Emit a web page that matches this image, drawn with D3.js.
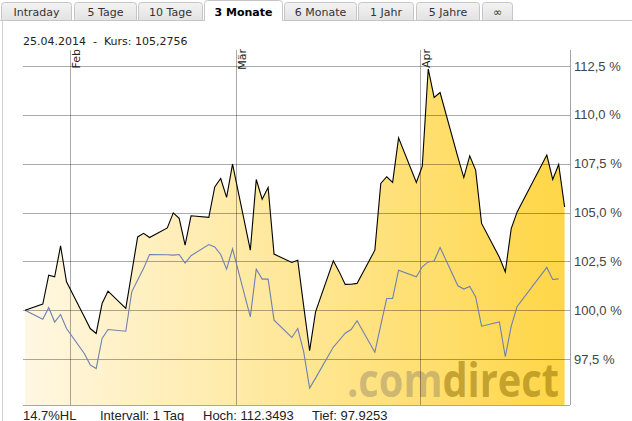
<!DOCTYPE html>
<html><head><meta charset="utf-8">
<script src="https://cdn.jsdelivr.net/npm/d3@7"></script>
<style>
body{margin:0;background:#fff;overflow:hidden;}
svg{display:block;}
</style></head><body>
<svg id="c" width="632" height="421"></svg>
<script>
// ---------- data ----------
const dates = [
"2014-01-24","2014-01-27","2014-01-28","2014-01-29","2014-01-30","2014-01-31",
"2014-02-03","2014-02-04","2014-02-05","2014-02-06","2014-02-07",
"2014-02-10","2014-02-11","2014-02-12","2014-02-13","2014-02-14",
"2014-02-17","2014-02-18","2014-02-19","2014-02-20","2014-02-21",
"2014-02-24","2014-02-25","2014-02-26","2014-02-27","2014-02-28",
"2014-03-03","2014-03-04","2014-03-05","2014-03-06","2014-03-07",
"2014-03-10","2014-03-11","2014-03-12","2014-03-13","2014-03-14",
"2014-03-17","2014-03-18","2014-03-19","2014-03-20","2014-03-21",
"2014-03-24","2014-03-25","2014-03-26","2014-03-27","2014-03-28",
"2014-03-31","2014-04-01","2014-04-02","2014-04-03","2014-04-04",
"2014-04-07","2014-04-08","2014-04-09","2014-04-10","2014-04-11",
"2014-04-14","2014-04-15","2014-04-16","2014-04-17",
"2014-04-22","2014-04-23","2014-04-24","2014-04-25"];
const kurs = [
100.00,100.31,101.79,101.71,103.29,101.45,
99.66,99.06,98.81,100.34,100.97,
100.09,101.92,103.75,103.93,103.72,
104.21,104.98,104.70,103.33,104.83,
104.75,106.31,106.74,105.77,107.48,
103.07,106.69,105.68,106.28,102.87,
102.44,102.56,100.21,97.93,99.91,
102.53,101.96,101.32,101.33,101.37,
103.07,106.49,106.83,106.54,108.82,
106.54,107.37,112.35,110.89,111.14,
107.83,106.79,107.90,107.17,104.44,
102.71,101.96,104.18,105.03,
107.94,106.69,107.46,105.28];
const vergleich = [
100.00,99.53,100.13,99.39,99.78,99.06,
97.78,97.20,97.01,98.55,99.01,
98.92,100.94,101.54,102.14,102.85,
102.84,102.82,102.85,102.41,102.79,
103.36,103.24,102.85,102.10,103.14,
99.66,102.10,101.59,101.59,99.49,
98.60,99.06,97.86,96.01,96.52,
98.11,98.46,98.82,99.01,99.46,
97.85,99.23,100.60,100.60,102.05,
101.71,102.22,102.47,102.52,103.21,
101.25,101.08,101.21,100.68,99.18,
99.40,97.62,99.18,100.19,
102.19,101.57,101.60,null];
const yTicks = [97.5,100,102.5,105,107.5,110,112.5];
const monthTicks = ["2014-02-01","2014-03-01","2014-04-01"];
const monthLabels = ["Feb","Mär","Apr"];
const tabs = ["Intraday","5 Tage","10 Tage","3 Monate","6 Monate","1 Jahr","5 Jahre","∞"];
const activeTab = "3 Monate";
const header = "25.04.2014  -  Kurs: 105,2756";
const footer = ["14.7%HL","Intervall: 1 Tag","Hoch: 112.3493","Tief: 97.9253"];
const watermark = [".com","direct"];

// ---------- layout ----------
const tabX = [1,74,138,204,284,358,416,482];
const tabW = [71,63,65,79,73,56,64,31];
const plot = {left:23, right:570, top:50, bottom:405};
const sans = "'DejaVu Sans', Verdana, sans-serif";
const arial = "'Liberation Sans', Arial, sans-serif";

const svg = d3.select("#c");
const parse = d3.timeParse("%Y-%m-%d");
const stamp = s => d3.timeHour.offset(parse(s), 11);

const x = d3.scaleTime()
  .domain([stamp(dates[0]), stamp(dates[dates.length-1])])
  .range([25, 564.6]);
const y = d3.scaleLinear().domain([97.5,112.5]).range([359,66]);

const defs = svg.append("defs");
const g1 = defs.append("linearGradient").attr("id","fillg")
  .attr("gradientUnits","userSpaceOnUse").attr("x1",25).attr("x2",565).attr("y1",0).attr("y2",0);
g1.append("stop").attr("offset",0).attr("stop-color","#fff7e2");
g1.append("stop").attr("offset",0.5).attr("stop-color","#ffe797");
g1.append("stop").attr("offset",1).attr("stop-color","#ffd646");
const g2 = defs.append("linearGradient").attr("id","tabg").attr("x1",0).attr("x2",0).attr("y1",0).attr("y2",1);
g2.append("stop").attr("offset",0).attr("stop-color","#f3f3f3");
g2.append("stop").attr("offset",1).attr("stop-color","#e2e2e2");
defs.append("clipPath").attr("id","pclip").append("rect")
  .attr("x",plot.left).attr("y",plot.top).attr("width",plot.right-plot.left).attr("height",plot.bottom-plot.top);

// ---------- tabs ----------
svg.append("line").attr("x1",0).attr("x2",632).attr("y1",20.5).attr("y2",20.5).attr("stroke","#c6c6c6");
svg.append("line").attr("x1",2.5).attr("x2",2.5).attr("y1",20).attr("y2",421).attr("stroke","#d0d0d0");
const tabPath = (x0,w,top,bottom) => {
  const r=3, x1=x0+w;
  return `M${x0},${bottom} L${x0},${top+r} Q${x0},${top} ${x0+r},${top} L${x1-r},${top} Q${x1},${top} ${x1},${top+r} L${x1},${bottom}`;
};
tabs.forEach((t,i)=>{
  const act = t===activeTab;
  const x0 = tabX[i]+0.5, w = tabW[i]-1;
  svg.append("path").attr("d", tabPath(x0,w, act?0.5:2.5, act?21:20.5) + (act?"":"Z"))
    .attr("fill", act?"#fff":"url(#tabg)").attr("stroke","#c6c6c6");
  svg.append("text").attr("x", tabX[i]+tabW[i]/2).attr("y",16)
    .attr("text-anchor","middle").attr("font-family",sans).attr("font-size",11)
    .attr("font-weight", act?"bold":"normal").attr("fill", act?"#000":"#333").text(t);
});

// header
svg.append("text").attr("x",23).attr("y",45).attr("font-family",sans).attr("font-size",11)
  .attr("fill","#222").style("white-space","pre").text(header);

// ---------- area & watermark ----------
const pts = dates.map((d,i)=>({t:stamp(d), k:kurs[i], v:vergleich[i]}));
const area = d3.area().x(d=>x(d.t)).y0(plot.bottom).y1(d=>y(d.k));
svg.append("path").datum(pts).attr("d",area).attr("fill","url(#fillg)");

const wm = svg.append("text").attr("x",347).attr("y",397)
  .attr("font-family","'Open Sans', 'DejaVu Sans', sans-serif").attr("font-size",47).attr("font-weight",700)
  .attr("textLength",212).attr("lengthAdjust","spacingAndGlyphs").attr("clip-path","url(#pclip)");
wm.append("tspan").attr("fill","#8f8468").attr("fill-opacity",0.45).text(watermark[0]);
wm.append("tspan").attr("fill","#8a6a00").attr("fill-opacity",0.5).text(watermark[1]);

// ---------- grid ----------
const grid = "rgba(0,0,0,0.33)";
svg.append("g").selectAll("line").data(yTicks).join("line")
  .attr("x1",plot.left).attr("x2",plot.right)
  .attr("y1",d=>Math.round(y(d))+0.5).attr("y2",d=>Math.round(y(d))+0.5)
  .attr("stroke",grid);
svg.append("g").selectAll("line").data(monthTicks).join("line")
  .attr("x1",d=>Math.round(x(parse(d)))+0.5).attr("x2",d=>Math.round(x(parse(d)))+0.5)
  .attr("y1",plot.top).attr("y2",plot.bottom).attr("stroke",grid);
svg.append("line").attr("x1",plot.right+0.5).attr("x2",plot.right+0.5)
  .attr("y1",plot.top).attr("y2",plot.bottom).attr("stroke","#a6a6a6");
svg.append("line").attr("x1",plot.left).attr("x2",plot.right)
  .attr("y1",plot.bottom+0.5).attr("y2",plot.bottom+0.5).attr("stroke","#a6a6a6");

// month labels
monthTicks.forEach((m,i)=>{
  const xx = Math.round(x(parse(m)))+10;
  svg.append("text").attr("transform",`translate(${xx},${plot.top-1}) rotate(-90)`)
    .attr("text-anchor","end").attr("font-family",sans).attr("font-size",11).attr("fill","#222")
    .text(monthLabels[i]);
});

// y labels
const fmt = d => d3.format(".1f")(d).replace(".",",") + " %";
svg.append("g").selectAll("text").data(yTicks).join("text")
  .attr("x",574).attr("y",d=>y(d)+4.5).attr("font-family",arial).attr("font-size",13)
  .attr("fill","#444").text(fmt);

// ---------- lines ----------
const lineV = d3.line().defined(d=>d.v!=null).x(d=>x(d.t)).y(d=>y(d.v));
svg.append("path").datum(pts).attr("d",lineV).attr("fill","none").attr("stroke","#6e80b2").attr("stroke-width",1.1);
const lineK = d3.line().x(d=>x(d.t)).y(d=>y(d.k));
svg.append("path").datum(pts).attr("d",lineK).attr("fill","none").attr("stroke","#000").attr("stroke-width",1.1);

// ---------- footer ----------
const fx = [23,100,203,312];
footer.forEach((f,i)=>{
  svg.append("text").attr("x",fx[i]).attr("y",419.5).attr("font-family",arial).attr("font-size",13)
    .attr("fill","#222").text(f);
});
</script>
</body></html>
